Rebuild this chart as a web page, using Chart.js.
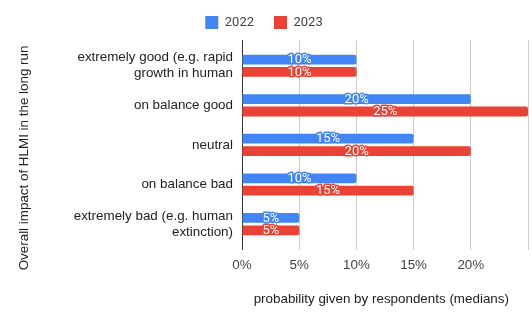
<!DOCTYPE html>
<html>
<head>
<meta charset="utf-8">
<script src="https://cdn.jsdelivr.net/npm/chart.js@4.4.0/dist/chart.umd.min.js"></script>
<style>
html, body { margin: 0; padding: 0; background: #fff; }
</style>
</head>
<body>
<canvas id="chart" width="532" height="320"></canvas>
<script>
var categories = [
    ['extremely good (e.g. rapid', 'growth in human'],
    'on balance good',
    'neutral',
    'on balance bad',
    ['extremely bad (e.g. human', 'extinction)']
];
var seriesNames = ['2022', '2023'];
var values2022 = [10, 20, 15, 10, 5];
var values2023 = [10, 25, 20, 15, 5];
var xTickLabels = [0, 5, 10, 15, 20];

var blue = '#4285F4';
var red = '#EA4335';

Chart.defaults.font.family = "'Liberation Sans', Arial, sans-serif";
Chart.defaults.font.size = 13.4;

function toPoints(vals) {
    return vals.map(function (v, i) { return { x: v, y: i }; });
}

// legend takes a fixed band so the plot starts where the reference does
var legendBand = {
    id: 'legendBand',
    afterInit: function (chart) {
        var lg = chart.legend;
        var fit = lg.fit;
        lg.fit = function () {
            fit.call(this);
            this.height = 44;
        };
    }
};

// white value labels with a halo in the bar colour
var barLabels = {
    id: 'barLabels',
    afterDatasetsDraw: function (chart) {
        var ctx = chart.ctx;
        ctx.save();
        ctx.font = '13px Roboto';
        ctx.textAlign = 'center';
        ctx.textBaseline = 'middle';
        ctx.lineJoin = 'round';
        ctx.lineWidth = 3;
        chart.data.datasets.forEach(function (ds, i) {
            chart.getDatasetMeta(i).data.forEach(function (bar, j) {
                var txt = ds.data[j].x + '%';
                var x = (bar.x + bar.base) / 2;
                ctx.strokeStyle = ds.backgroundColor;
                ctx.strokeText(txt, x, bar.y + 0.5);
                ctx.fillStyle = '#fff';
                ctx.fillText(txt, x, bar.y + 0.5);
            });
        });
        ctx.restore();
    }
};

var ctx = document.getElementById('chart').getContext('2d');
new Chart(ctx, {
    type: 'bar',
    data: {
        datasets: [{
            label: seriesNames[0],
            data: toPoints(values2022),
            backgroundColor: blue,
            borderWidth: 0,
            borderRadius: 2
        }, {
            label: seriesNames[1],
            data: toPoints(values2023),
            backgroundColor: red,
            borderWidth: 0,
            borderRadius: 2
        }]
    },
    options: {
        indexAxis: 'y',
        responsive: false,
        animation: false,
        categoryPercentage: 0.624,
        barPercentage: 0.79,
        layout: { padding: { top: -4, right: 4, bottom: 0, left: 0 } },
        plugins: {
            legend: {
                position: 'top',
                labels: {
                    boxWidth: 13,
                    boxHeight: 13,
                    padding: 20,
                    color: '#444',
                    font: { family: 'Roboto', size: 13 }
                }
            },
            tooltip: { enabled: false }
        },
        scales: {
            x: {
                type: 'linear',
                min: 0,
                max: 25,
                afterFit: function (s) { s.paddingRight = 4; },
                grid: {
                    color: function (c) { return c.tick && c.tick.value === 0 ? '#333' : '#ccc'; },
                    drawTicks: false,
                    tickLength: 0
                },
                border: { display: false },
                ticks: {
                    stepSize: 5,
                    padding: 7,
                    color: '#444',
                    maxRotation: 0,
                    autoSkip: false,
                    callback: function (v) { return xTickLabels.indexOf(v) >= 0 ? v + '%' : ''; }
                },
                title: {
                    display: true,
                    text: 'probability given by respondents (medians)  ',
                    color: '#222',
                    padding: { top: 11, bottom: 13 }
                }
            },
            y: {
                type: 'linear',
                reverse: true,
                offset: false,
                min: -0.65,
                max: 4.65,
                afterBuildTicks: function (s) {
                    s.ticks = categories.map(function (c, i) { return { value: i }; });
                },
                afterFit: function (s) { s.width = 242; },
                grid: { display: false, drawTicks: false, tickLength: 0, offset: false },
                border: { display: true, color: '#333', width: 1 },
                ticks: {
                    padding: 9,
                    color: '#222',
                    autoSkip: false,
                    callback: function (v) { return categories[v]; }
                },
                title: {
                    display: true,
                    text: 'Overall impact of HLMI in the long run       ',
                    color: '#222',
                    padding: { top: 16, bottom: 0 }
                }
            }
        }
    },
    plugins: [legendBand, barLabels]
});
</script>
</body>
</html>
